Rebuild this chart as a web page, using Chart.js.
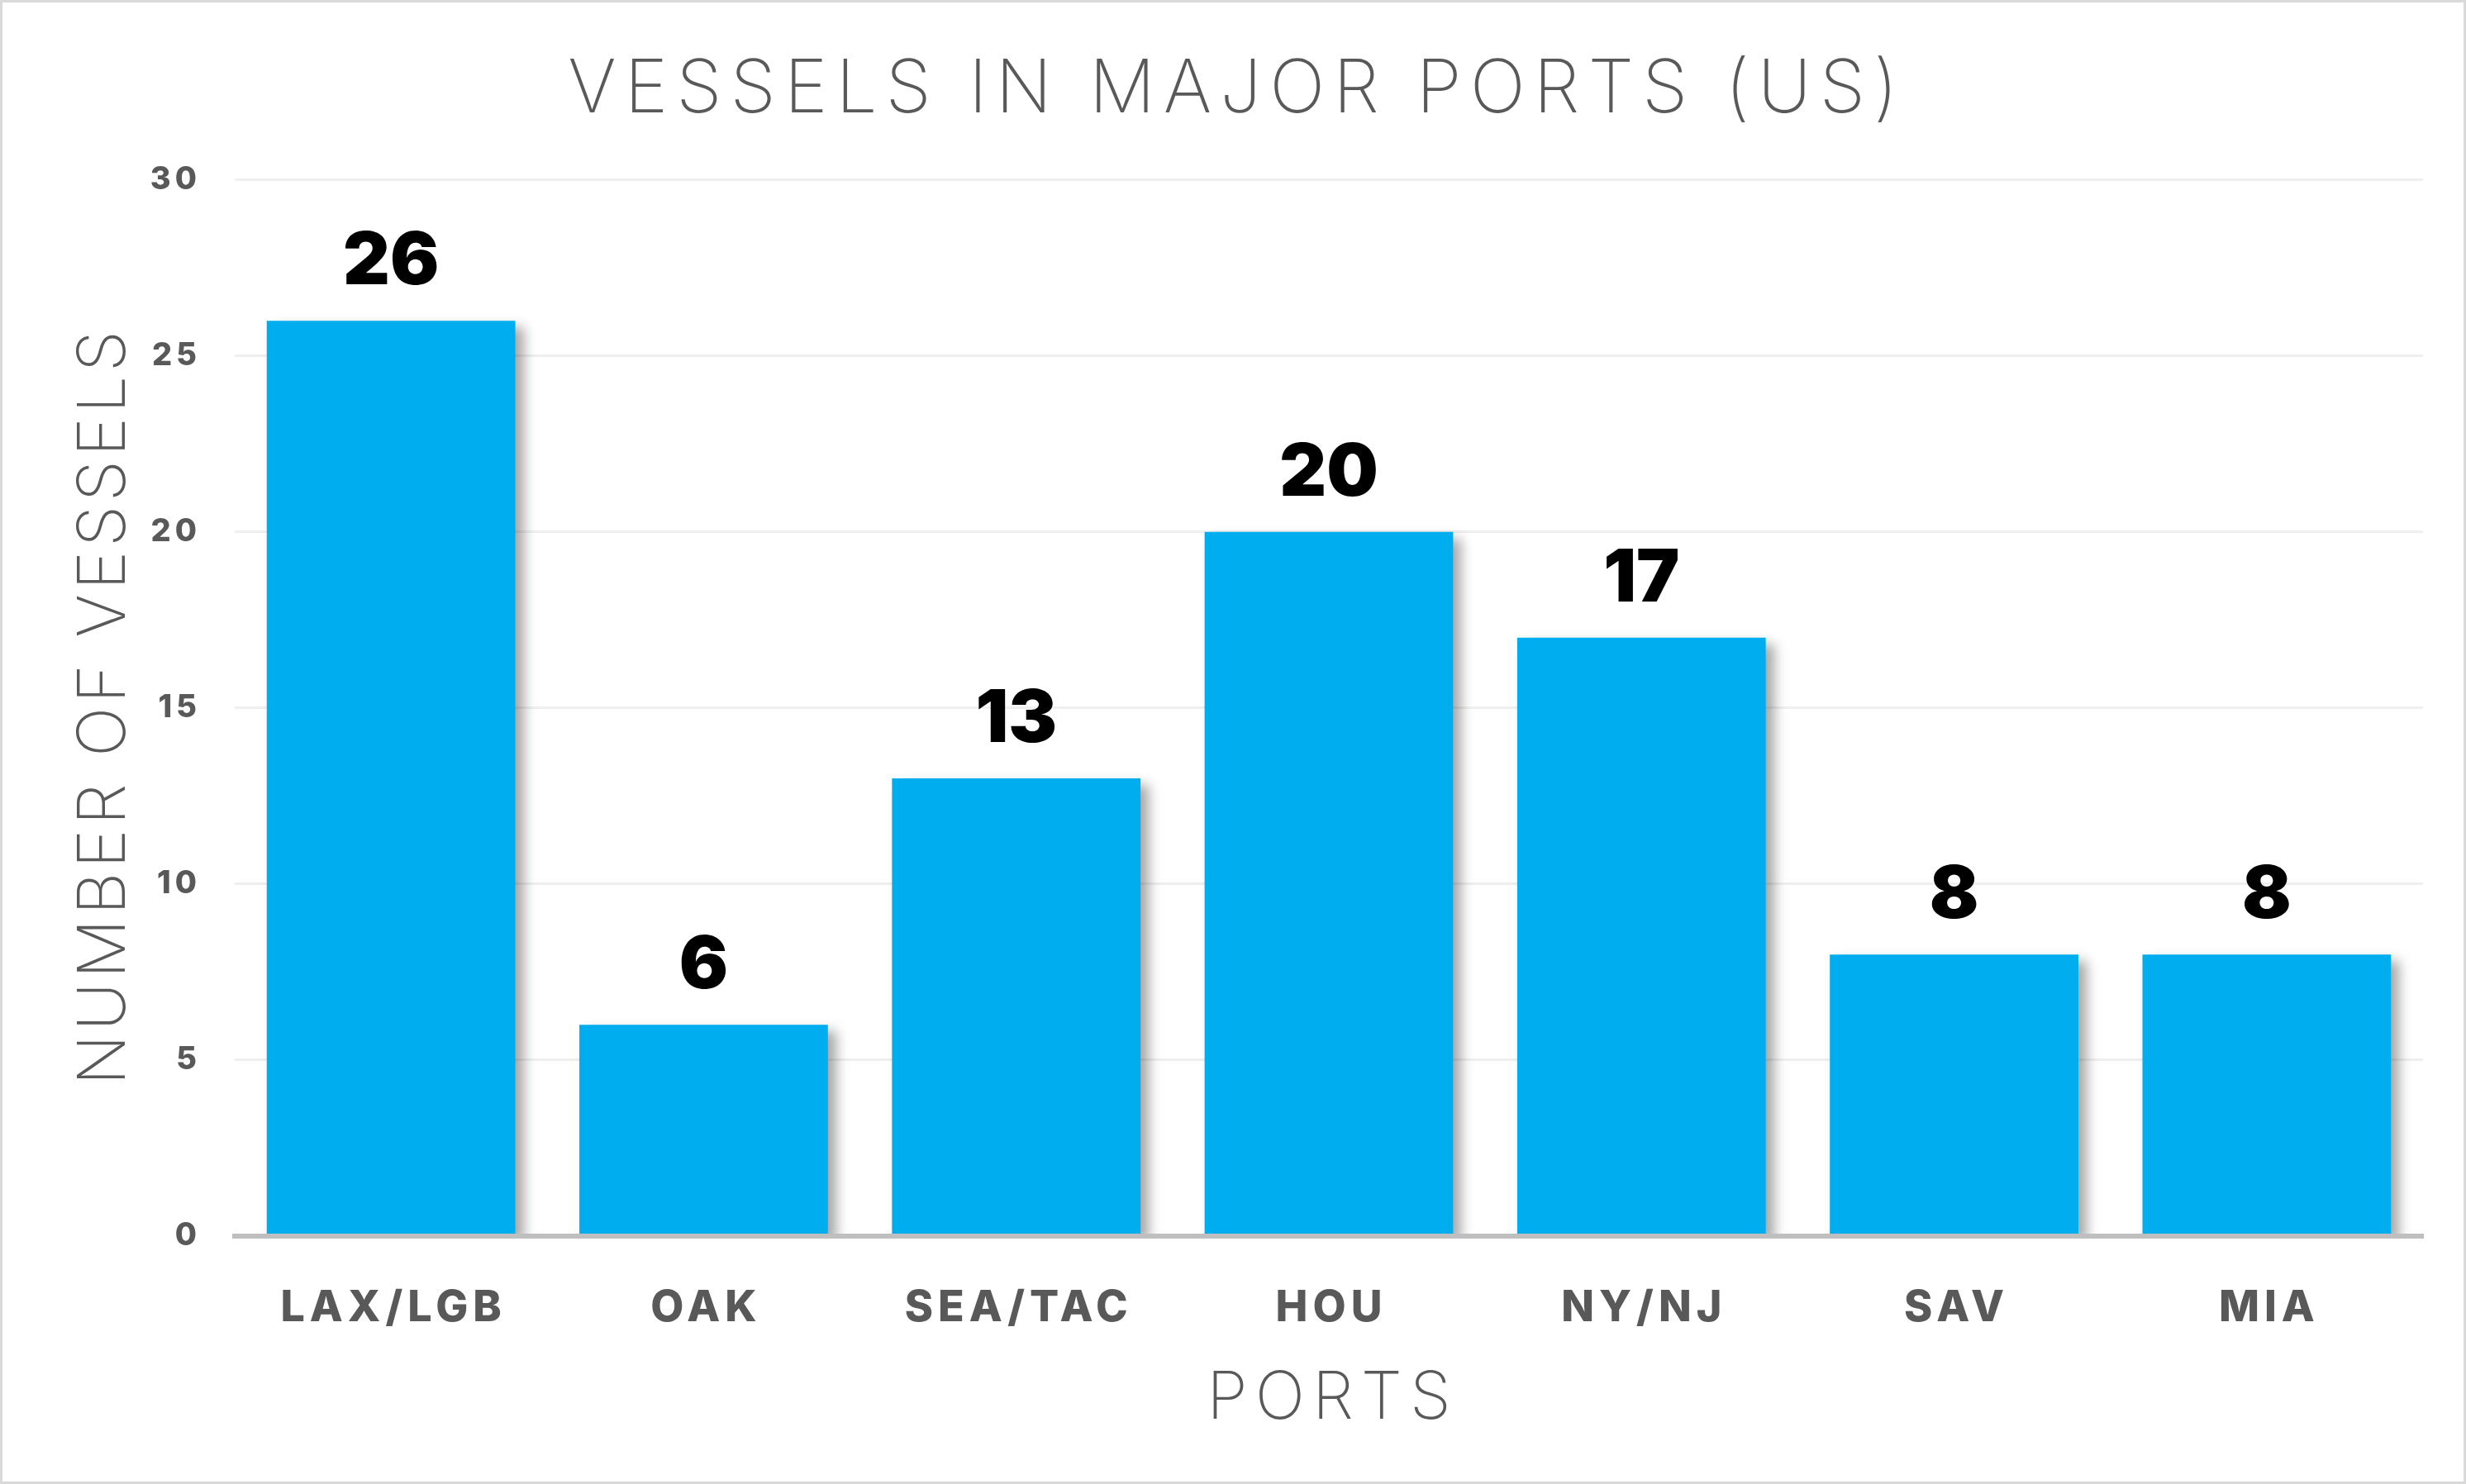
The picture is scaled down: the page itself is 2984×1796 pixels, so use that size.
<!DOCTYPE html>
<html>
<head>
<meta charset="utf-8">
<script src="https://cdn.jsdelivr.net/npm/chart.js@4"></script>
<style>
  html, body { margin: 0; padding: 0; background: #fff; }
  #frame { width: 2984px; height: 1796px; box-sizing: border-box; border: 3px solid #d9d9d9; }
  canvas { display: block; }
</style>
</head>
<body>
<div id="frame"><canvas id="myChart" width="2978" height="1790"></canvas></div>
<script>
const ports = ['LAX/LGB', 'OAK', 'SEA/TAC', 'HOU', 'NY/NJ', 'SAV', 'MIA'];
const vessels = [26, 6, 13, 20, 17, 8, 8];
const yTicks = [0, 5, 10, 15, 20, 25, 30];

const grey = '#595959';

// the original uses a wide geometric face, so add some tracking (px)
const titleTracking = {
  'VESSELS IN MAJOR PORTS (US)': 10,
  'PORTS': 9,
  'NUMBER OF VESSELS': 5,
};

function trackingFor(text, font) {
  if (text in titleTracking) return titleTracking[text];
  if (font.startsWith('800')) return Math.round(parseFloat(font.split(' ')[1]) * 0.12);
  return 0;
}

const tracking = {
  id: 'tracking',
  beforeInit(chart) {
    const ctx = chart.ctx;
    const fill = ctx.fillText.bind(ctx);
    ctx.fillText = function (text, x, y, maxWidth) {
      const sp = trackingFor(String(text), ctx.font);
      if (!sp) return fill(text, x, y, maxWidth);
      const old = ctx.letterSpacing;
      ctx.letterSpacing = sp + 'px';
      // trailing space would push the text off its anchor
      if (ctx.textAlign === 'center') x += sp / 2;
      else if (ctx.textAlign === 'right' || ctx.textAlign === 'end') x += sp;
      if (maxWidth === undefined) fill(text, x, y);
      else fill(text, x, y, maxWidth + sp * String(text).length);
      ctx.letterSpacing = old;
    };
  }
};

// soft drop shadow behind the bars
const barShadow = {
  id: 'barShadow',
  beforeDatasetsDraw(chart) {
    const c = chart.ctx;
    c.save();
    c.shadowColor = 'rgba(0,0,0,0.35)';
    c.shadowBlur = 14;
    c.shadowOffsetX = 10;
    c.shadowOffsetY = 8;
  },
  afterDatasetsDraw(chart) {
    chart.ctx.restore();
  }
};

// big value above each bar
const valueLabels = {
  id: 'valueLabels',
  afterDatasetsDraw(chart) {
    const ctx = chart.ctx;
    const meta = chart.getDatasetMeta(0);
    ctx.save();
    ctx.font = '900 88px Inter';
    ctx.fillStyle = '#000';
    ctx.textAlign = 'center';
    ctx.textBaseline = 'alphabetic';
    meta.data.forEach((bar, i) => {
      ctx.fillText(String(vessels[i]), bar.x, bar.y - 44);
    });
    ctx.restore();
  }
};

const data = {
  labels: ports,
  datasets: [
    {
      label: 'Vessels',
      data: vessels,
      backgroundColor: '#00aeef',
      borderWidth: 0,
      barPercentage: 0.795,
      categoryPercentage: 1,
      clip: 0,
    },
  ],
};

const config = {
  type: 'bar',
  data: data,
  options: {
    responsive: false,
    animation: false,
    layout: { padding: 0 },
    plugins: {
      legend: { display: false },
      tooltip: { enabled: false },
      title: {
        display: true,
        text: 'VESSELS IN MAJOR PORTS (US)',
        color: grey,
        font: { family: 'Inter', size: 89, weight: 200 },
        padding: { top: 53, bottom: 55 },
      },
    },
    scales: {
      x: {
        grid: { display: false, drawTicks: false },
        border: { display: true, color: '#bfbfbf', width: 6, z: 1 },
        ticks: {
          color: grey,
          padding: 56,
          font: { family: 'Inter', size: 52, weight: 800 },
        },
        title: {
          display: true,
          text: 'PORTS',
          color: grey,
          font: { family: 'Inter', size: 80, weight: 200 },
          padding: { top: 0, bottom: 52 },
        },
        afterFit(s) { s.height = 297; },
      },
      y: {
        min: 0,
        max: 30,
        afterBuildTicks(s) { s.ticks = yTicks.map(v => ({ value: v })); },
        grid: { color: '#efefef', lineWidth: 3, drawTicks: false },
        border: { display: false },
        ticks: {
          color: grey,
          padding: 46,
          font: { family: 'Inter', size: 38, weight: 800 },
        },
        title: {
          display: true,
          text: 'NUMBER OF VESSELS',
          color: grey,
          font: { family: 'Inter', size: 80, weight: 200 },
          padding: { top: 76, bottom: 0 },
        },
        afterFit(s) { s.width = 281; },
      },
      // empty strip on the right so the title stays centred on the page
      yRight: {
        position: 'right',
        grid: { display: false, drawTicks: false },
        border: { display: false },
        ticks: { display: false },
        afterFit(s) { s.width = 49; },
      },
    },
  },
  plugins: [tracking, barShadow, valueLabels],
};

const myChart = new Chart(document.getElementById('myChart'), config);
</script>
</body>
</html>
